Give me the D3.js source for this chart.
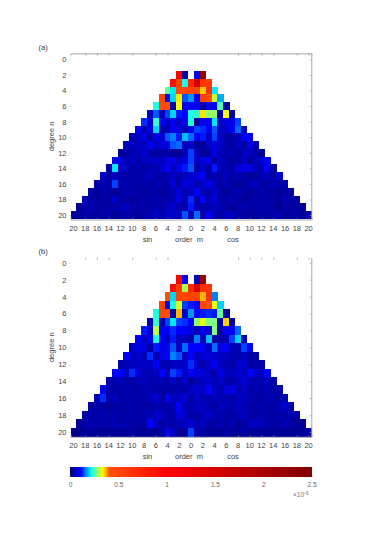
<!DOCTYPE html>
<html>
<head>
<meta charset="utf-8">
<script src="https://cdn.jsdelivr.net/npm/d3@7"></script>
<style>
  html, body { margin: 0; padding: 0; background: #fff; }
  text { font-family: "Liberation Sans", Arial, sans-serif; }
</style>
</head>
<body>
<svg id="chart" width="382" height="541"></svg>
<script>
// values are in units of 1e-6, one row per degree n (2..20), order m = -n..n
const rowsA = [
  [1.0,.03,null,.08,2.3],
  [.95,.5,.23,.7,1.5,.6,.55],
  [.26,.21,.45,.45,.5,.5,.35,.65,.21],
  [.5,.09,.2,.34,.14,.17,.09,.55,.42,.3,.18],
  [.23,.45,.45,.03,.33,.09,.1,.09,.04,.08,.1,.25,.03],
  [.05,.14,.04,.13,.2,.11,.1,.23,.24,.34,.28,.28,.04,.33,.03],
  [.12,.05,.24,.09,.05,.09,.05,.09,.23,.02,.09,.08,.21,.05,.08,.08,.13],
  [.1,.04,.08,.2,.04,.03,.09,.07,.04,.09,.13,.12,.09,.14,.05,.06,.1,.15,.05],
  [.04,.05,.08,.03,.08,.06,.14,.16,.11,.19,.15,.1,.11,.05,.13,.05,.03,.03,.04,.1,.09],
  [.05,.05,.05,.05,.09,.05,.07,.08,.14,.15,.05,.05,.02,.02,.06,.07,.05,.04,.03,.05,.03,.08,.03],
  [.02,.03,.04,.04,.06,.03,.03,.03,.03,.02,.02,.04,.13,.05,.02,.03,.08,.04,.04,.04,.03,.05,.05,.03,.02],
  [.09,.07,.04,.05,.03,.05,.05,.06,.05,.08,.08,.05,.07,.13,.05,.07,.08,.03,.05,.04,.02,.03,.05,.02,.05,.06,.09],
  [.03,.21,.06,.05,.03,.04,.03,.04,.04,.06,.1,.05,.08,.11,.14,.03,.06,.03,.11,.04,.04,.03,.07,.08,.07,.04,.04,.09,.03],
  [.06,.03,.05,.04,.03,.04,.03,.04,.05,.03,.03,.04,.05,.04,.05,.06,.07,.09,.03,.04,.03,.05,.03,.04,.03,.02,.03,.04,.05,.03,.06],
  [.03,.04,.03,.13,.03,.04,.03,.03,.04,.03,.04,.03,.03,.07,.03,.07,.06,.04,.05,.08,.05,.03,.04,.03,.02,.03,.04,.05,.03,.03,.04,.03,.04],
  [.03,.02,.03,.03,.02,.03,.04,.03,.03,.02,.03,.03,.02,.03,.04,.07,.04,.05,.1,.05,.03,.06,.03,.02,.03,.04,.03,.02,.03,.04,.03,.03,.02,.03,.03],
  [.04,.03,.02,.03,.03,.06,.03,.03,.02,.03,.03,.03,.04,.03,.03,.04,.08,.04,.12,.03,.1,.04,.07,.03,.03,.04,.03,.02,.03,.03,.04,.03,.03,.02,.04,.03,.03],
  [.02,.03,.04,.03,.03,.03,.03,.04,.05,.03,.03,.03,.03,.04,.03,.05,.06,.04,.03,.11,.04,.03,.04,.05,.04,.03,.02,.03,.04,.03,.03,.03,.04,.03,.02,.03,.03,.03,.02],
  [.02,.02,.03,.03,.02,.03,.03,.02,.03,.03,.03,.02,.03,.04,.05,.04,.06,.06,.05,.14,.04,.15,.03,.09,.04,.03,.05,.05,.03,.03,.02,.03,.03,.03,.03,.04,.02,.03,.03,.02,.03]
];

const rowsB = [
  [1.0,.1,null,.04,2.2],
  [.95,.55,.29,.7,1.5,.65,.6],
  [.4,.2,.48,.48,.5,.5,.36,.65,.16],
  [.5,.09,.23,.31,.13,.11,.09,.5,.42,.32,.2],
  [.23,.45,.45,.03,.36,.06,.17,.1,.11,.12,.11,.26,.03],
  [.04,.24,.04,.13,.21,.13,.12,.1,.28,.32,.27,.27,.03,.35,.03],
  [.11,.05,.3,.1,.09,.12,.1,.09,.08,.04,.09,.05,.27,.04,.09,.09,.15],
  [.1,.05,.09,.23,.09,.04,.11,.05,.05,.03,.16,.05,.19,.03,.03,.04,.13,.2,.04],
  [.06,.08,.07,.03,.11,.08,.09,.14,.05,.15,.1,.1,.09,.05,.15,.08,.09,.04,.04,.13,.09],
  [.09,.05,.06,.04,.12,.04,.08,.09,.16,.14,.05,.09,.05,.06,.07,.06,.05,.05,.04,.04,.05,.03,.03],
  [.03,.04,.05,.05,.06,.05,.09,.04,.04,.05,.05,.06,.12,.06,.03,.06,.09,.05,.04,.03,.06,.06,.03,.03,.04],
  [.1,.1,.05,.12,.07,.04,.04,.05,.1,.04,.13,.11,.05,.09,.07,.07,.05,.03,.08,.05,.05,.06,.05,.1,.06,.05,.1],
  [.03,.04,.04,.03,.03,.04,.05,.03,.04,.04,.03,.05,.03,.06,.02,.04,.05,.06,.04,.05,.04,.03,.05,.07,.04,.03,.04,.05,.03],
  [.1,.03,.03,.03,.04,.03,.03,.04,.04,.03,.03,.03,.03,.04,.03,.05,.06,.05,.1,.05,.04,.07,.08,.04,.05,.03,.04,.03,.04,.03,.03],
  [.04,.12,.03,.05,.03,.04,.03,.04,.03,.05,.06,.03,.09,.05,.05,.07,.03,.05,.04,.04,.05,.04,.04,.03,.05,.05,.04,.03,.03,.04,.04,.03,.04],
  [.03,.03,.03,.02,.03,.03,.03,.04,.03,.03,.03,.04,.03,.03,.04,.1,.04,.04,.05,.05,.04,.03,.05,.04,.04,.05,.04,.03,.03,.04,.03,.03,.04,.06,.03],
  [.03,.04,.03,.04,.03,.04,.03,.03,.04,.03,.04,.04,.06,.05,.03,.03,.07,.06,.03,.03,.04,.06,.04,.04,.03,.03,.04,.05,.03,.03,.04,.03,.03,.04,.03,.04,.03],
  [.02,.03,.04,.03,.04,.03,.04,.03,.04,.03,.03,.03,.1,.05,.03,.04,.03,.04,.05,.06,.04,.05,.03,.03,.04,.03,.04,.02,.03,.05,.05,.04,.03,.03,.03,.04,.03,.02,.02],
  [.01,.01,.02,.02,.02,.02,.02,.02,.02,.02,.03,.02,.02,.02,.02,.03,.09,.05,.02,.02,.13,.03,.03,.02,.02,.02,.03,.02,.02,.03,.02,.02,.02,.02,.02,.02,.02,.02,.02,.02,.03]
];

const degrees = d3.range(2, 21);
const degreeTicks = d3.range(0, 21, 2);
const orderTicks = d3.range(-20, 21, 2);
const outerTicks = [-18, -16, -14, -10, -6, -4, 8, 10, 12, 14, 18, 20];
const barTicks = [0, 0.5, 1, 1.5, 2, 2.5];
const colorStops = [0, 0.1, 0.22, 0.27, 0.33, 0.4, 1, 2.5];
const colorRange = ["#000080", "#0000ff", "#00ffff", "#80ff80", "#ffff00", "#ff5000", "#ff0000", "#800000"];

const color = d3.scaleLinear().domain(colorStops).range(colorRange).clamp(true);
const svg = d3.select("#chart");
const grey = "#a8a8a8";
const inkSoft = "#444";

// the original is a resampled bitmap, so the cell edges are slightly soft
svg.append("defs").append("filter")
  .attr("id", "soft")
  .attr("x", "-2%").attr("y", "-2%").attr("width", "104%").attr("height", "104%")
  .append("feGaussianBlur")
  .attr("stdDeviation", 0.35);

const x = d3.scaleLinear().domain([-20.5, 20.5]).range([70.5, 311.5]);

function panel(rows, label, top, rowH, boxTop, boxBottom, hasTopLine) {
  const y = d3.scaleLinear().domain([0, 20]).range([top, top + 20 * rowH]);
  const g = svg.append("g");
  const cells = g.append("g").attr("filter", "url(#soft)").attr("shape-rendering", "crispEdges");
  const cellW = x(1) - x(0);

  degrees.forEach((n, i) => {
    rows[i].forEach((v, j) => {
      if (v === null) return;
      cells.append("rect")
        .attr("x", x(j - n) - cellW / 2)
        .attr("y", y(n) - rowH / 2)
        .attr("width", cellW + 0.4)
        .attr("height", rowH + 0.4)
        .attr("fill", color(v));
    });
  });

  // axes, thin and pale like the original
  const topAxis = d3.axisTop(x).tickValues(outerTicks).tickSize(-2).tickFormat("");
  const bottomAxis = d3.axisBottom(x).tickValues(outerTicks).tickSize(-2).tickFormat("");
  g.append("g").attr("transform", `translate(0, ${boxTop})`).call(topAxis)
    .call(a => a.select(".domain").attr("stroke", hasTopLine ? grey : "none"))
    .call(a => a.selectAll("line").attr("stroke", "#777").attr("stroke-width", 0.6));
  g.append("g").attr("transform", `translate(0, ${boxBottom})`).call(bottomAxis)
    .call(a => a.select(".domain").attr("stroke", grey))
    .call(a => a.selectAll("line").attr("stroke", "#777").attr("stroke-width", 0.6));

  g.append("line")
    .attr("x1", 311.8).attr("x2", 311.8)
    .attr("y1", boxTop).attr("y2", boxBottom)
    .attr("stroke", grey).attr("stroke-width", 1);

  const rightAxis = d3.axisRight(y).tickValues(degreeTicks).tickSize(-2).tickFormat("");
  g.append("g").attr("transform", "translate(311.5, 0)").call(rightAxis)
    .call(a => a.select(".domain").remove())
    .call(a => a.selectAll("line").attr("stroke", "#999").attr("stroke-width", 0.6));

  const leftAxis = d3.axisLeft(y).tickValues(degreeTicks).tickSize(1).tickPadding(3);
  g.append("g").attr("transform", "translate(70.5, 0)").call(leftAxis)
    .call(a => a.select(".domain").remove())
    .call(a => a.selectAll("line").attr("stroke", "#999").attr("stroke-width", 0.6))
    .call(a => a.selectAll("text").attr("font-size", 7.5).attr("font-family", "Liberation Sans").attr("fill", inkSoft));

  const tickY = boxBottom + 11;
  g.selectAll(".ol")
    .data(orderTicks)
    .join("text")
    .attr("x", d => x(d))
    .attr("y", tickY)
    .attr("text-anchor", "middle")
    .attr("font-size", 7.5)
    .attr("fill", inkSoft)
    .text(d => Math.abs(d));

  [["sin", 147.5], ["order  m", 189], ["cos", 233]].forEach(([t, px]) => {
    g.append("text")
      .attr("x", px)
      .attr("y", tickY + 11)
      .attr("text-anchor", "middle")
      .attr("font-size", 7.5)
      .attr("xml:space", "preserve")
      .attr("fill", inkSoft)
      .text(t);
  });

  g.append("text")
    .attr("transform", `translate(54, ${(boxTop + boxBottom) / 2}) rotate(-90)`)
    .attr("text-anchor", "middle")
    .attr("font-size", 7.5)
    .attr("fill", inkSoft)
    .text("degree n");

  g.append("text")
    .attr("x", 38.5)
    .attr("y", boxTop - 3.5)
    .attr("font-size", 7.5)
    .attr("fill", "#333")
    .text(label);
}

panel(rowsA, "(a)", 59.4, 7.78, 53.4, 219.5, true);
panel(rowsB, "(b)", 262.8, 8.46, 257.7, 436.8, false);

// colorbar
const bar = d3.scaleLinear().domain([0, 2.5]).range([70, 311.5]);
const barGrad = svg.append("g").attr("shape-rendering", "crispEdges");
d3.range(0, 2.5, 0.01).forEach(v => {
  barGrad.append("rect")
    .attr("x", bar(v))
    .attr("y", 466.5)
    .attr("width", Math.min(bar(0.01) - bar(0) + 1, bar(2.5) - bar(v)))
    .attr("height", 10.5)
    .attr("fill", color(v));
});

const barAxis = d3.axisBottom(bar).tickValues(barTicks).tickSize(-1.5).tickPadding(5)
  .tickFormat(d => d);
svg.append("g").attr("transform", "translate(0, 477)").call(barAxis)
  .call(a => a.select(".domain").remove())
  .call(a => a.selectAll("line").attr("stroke", "#444").attr("stroke-width", 0.6))
  .call(a => a.selectAll("text").attr("font-size", 6.5).attr("font-family", "Liberation Sans").attr("fill", "#666"));

const exp = svg.append("text").attr("x", 293).attr("y", 497).attr("font-size", 6.5).attr("fill", "#777");
exp.append("tspan").text("×10");
exp.append("tspan").attr("dy", -2.5).attr("font-size", 5).text("-6");
</script>
</body>
</html>
